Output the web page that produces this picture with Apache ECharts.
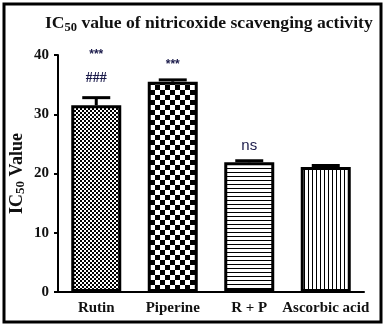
<!DOCTYPE html>
<html><head><meta charset="utf-8">
<script src="https://cdn.jsdelivr.net/npm/echarts@6/dist/echarts.min.js"></script>
<style>html,body{margin:0;padding:0;background:#fff}#c{width:388px;height:328px}</style>
</head><body><div id="c"></div>
<script>
const categories = ['Rutin', 'Piperine', 'R + P', 'Ascorbic acid'];
const means = [31.5, 35.5, 21.9, 21.1];
const errors = [1.3, 0.3, 0.25, 0.25];
const marksLow = ['###', '***', 'ns', ''];
const marksHigh = ['***', '', '', ''];
const yTicks = [0, 10, 20, 30, 40];

function pat(kind) {
  const c = document.createElement('canvas');
  const ctx = c.getContext('2d');
  if (kind === 'fine') {
    c.width = 4; c.height = 4;
    ctx.fillStyle = '#fff'; ctx.fillRect(0,0,4,4);
    ctx.fillStyle = '#000'; ctx.fillRect(0,0,2,2); ctx.fillRect(2,2,2,2);
  } else if (kind === 'coarse') {
    c.width = 10; c.height = 10;
    ctx.fillStyle = '#fff'; ctx.fillRect(0,0,10,10);
    ctx.fillStyle = '#000'; ctx.fillRect(0,0,5,5); ctx.fillRect(5,5,5,5);
  } else if (kind === 'hline') {
    c.width = 4; c.height = 4;
    ctx.fillStyle = '#fff'; ctx.fillRect(0,0,4,4);
    ctx.fillStyle = '#000'; ctx.fillRect(0,0,4,1);
  } else {
    c.width = 4; c.height = 4;
    ctx.fillStyle = '#fff'; ctx.fillRect(0,0,4,4);
    ctx.fillStyle = '#000'; ctx.fillRect(0,0,1,4);
  }
  return {image: c, repeat: 'repeat'};
}
const patterns = [pat('fine'), pat('coarse'), pat('hline'), pat('vline')];

const serif = '"Liberation Serif", "Times New Roman", serif';
const chart = echarts.init(document.getElementById('c'), null, {renderer: 'canvas'});
chart.setOption({
  animation: false,
  title: {
    text: '{a|IC}{s|50}{a| value of nitricoxide scavenging activity}',
    left: 40, top: 7,
    textStyle: {
      rich: {
        a: {fontFamily: serif, fontWeight: 'bold', fontSize: 17.6, color: '#111', lineHeight: 22},
        s: {fontFamily: serif, fontWeight: 'bold', fontSize: 12.5, color: '#111', lineHeight: 22, padding: [9,0,0,0]}
      }
    }
  },
  graphic: [{type: 'rect', shape: {x: 4, y: 4, width: 377, height: 318}, style: {fill: 'none', stroke: '#000', lineWidth: 3}, z: 100}],
  grid: {left: 58, right: 24, top: 55, bottom: 36, outerBoundsMode: 'none', containLabel: false},
  xAxis: {
    type: 'category', data: categories,
    axisLine: {lineStyle: {color: '#000', width: 2}},
    axisTick: {alignWithLabel: true, length: 5, lineStyle: {color: '#000', width: 2}},
    axisLabel: {margin: 9, color: '#111', fontFamily: serif, fontWeight: 'bold', fontSize: 15, interval: 0}
  },
  yAxis: {
    type: 'value', min: yTicks[0], max: yTicks[yTicks.length-1], interval: 10,
    name: '{a|IC}{s|50}{a| Value}', nameLocation: 'middle', nameGap: 31, nameRotate: 90,
    nameMoveOverlap: false,
    nameTextStyle: {rich: {
      a: {fontFamily: serif, fontWeight: 'bold', fontSize: 18, color: '#111', lineHeight: 20},
      s: {fontFamily: serif, fontWeight: 'bold', fontSize: 13, color: '#111', lineHeight: 20, padding: [8,0,0,0]}
    }},
    splitLine: {show: false},
    axisLine: {show: true, lineStyle: {color: '#000', width: 2}},
    axisTick: {show: true, length: 4, lineStyle: {color: '#000', width: 2}},
    axisLabel: {margin: 9, color: '#111', fontFamily: serif, fontWeight: 'bold', fontSize: 15}
  },
  series: [
    {
      type: 'bar', barWidth: 50,
      data: means.map((v, i) => ({value: v, itemStyle: {color: patterns[i], borderColor: '#000', borderWidth: 3}})),
      z: 2
    },
    {
      type: 'custom', z: 3,
      data: means.map((v, i) => [i, v, errors[i]]),
      renderItem: function (params, api) {
        const i = api.value(0), m = api.value(1), e = api.value(2);
        const top = api.coord([i, m + e]);
        const bot = api.coord([i, m]);
        return {type: 'group', children: [
          {type: 'line', shape: {x1: top[0], y1: top[1], x2: bot[0], y2: bot[1]}, style: {stroke: '#000', lineWidth: 3}},
          {type: 'line', shape: {x1: top[0]-14, y1: top[1], x2: top[0]+14, y2: top[1]}, style: {stroke: '#000', lineWidth: 3}}
        ]};
      }
    },
    {
      type: 'custom', z: 4,
      data: means.map((v, i) => [i, v + errors[i]]),
      renderItem: function (params, api) {
        const i = params.dataIndex;
        const p = api.coord([api.value(0), api.value(1)]);
        const ch = [];
        const low = marksLow[i], high = marksHigh[i];
        if (low) {
          const isStar = low === '***';
          const isNs = low === 'ns';
          ch.push({type: 'text', style: {
            text: low, x: p[0], y: p[1] - (isNs ? 15 : (isStar ? 15 : 19)),
            align: 'center', verticalAlign: 'middle',
            fill: '#1a1a4a',
            font: isNs ? '15px "Liberation Sans", Arial, sans-serif' : (isStar ? 'bold 12px "Liberation Sans", Arial, sans-serif' : 'bold 14px ' + serif)
          }});
        }
        if (high) {
          ch.push({type: 'text', style: {
            text: high, x: p[0], y: p[1] - 43, align: 'center', verticalAlign: 'middle',
            fill: '#1a1a4a', font: 'bold 12px "Liberation Sans", Arial, sans-serif'
          }});
        }
        return {type: 'group', children: ch};
      }
    }
  ]
});
</script></body></html>
